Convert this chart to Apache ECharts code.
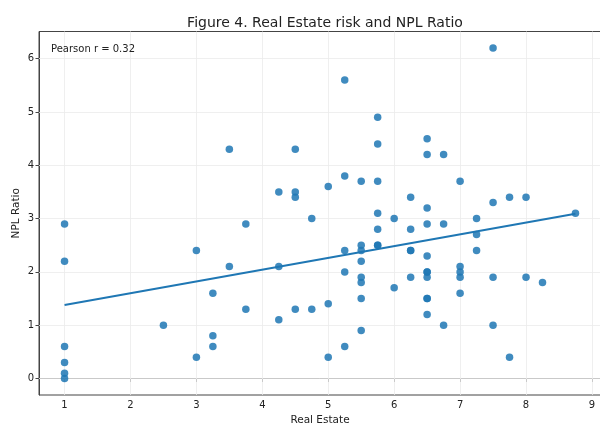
<!DOCTYPE html>
<html>
<head>
<meta charset="utf-8">
<script src="https://cdn.jsdelivr.net/npm/echarts@6/dist/echarts.min.js"></script>
<style>html,body{margin:0;padding:0;background:#fff}#c{width:600px;height:425px}</style>
</head>
<body>
<div id="c"></div>
<script>
const realEstate = [1,1,1,1,1,1, 2.5, 3,3, 3.25,3.25,3.25, 3.5,3.5, 3.75,3.75, 4.25,4.25,4.25,
  4.5,4.5,4.5,4.5, 4.75,4.75, 5,5,5, 5.25,5.25,5.25,5.25,5.25,
  5.5,5.5,5.5,5.5,5.5,5.5,5.5,5.5, 5.75,5.75,5.75,5.75,5.75,5.75,5.75, 6,6,
  6.25,6.25,6.25,6.25,6.25, 6.5,6.5,6.5,6.5,6.5,6.5,6.5,6.5,6.5,6.5,6.5,
  6.75,6.75,6.75, 7,7,7,7,7, 7.25,7.25,7.25, 7.5,7.5,7.5,7.5, 7.75,7.75, 8,8, 8.25, 8.75];
const nplRatio = [2.9,2.2,0.6,0.3,0.1,0.0, 1.0, 2.4,0.4, 1.6,0.8,0.6, 4.3,2.1, 2.9,1.3, 3.5,2.1,1.1,
  4.3,3.5,3.4,1.3, 3.0,1.3, 3.6,1.4,0.4, 5.6,3.8,2.4,2.0,0.6,
  3.7,2.5,2.4,2.2,1.9,1.8,1.5,0.9, 4.9,4.4,3.7,3.1,2.8,2.5,2.5, 3.0,1.7,
  3.4,2.8,2.4,2.4,1.9, 4.5,4.2,3.2,2.9,2.3,2.0,2.0,1.9,1.5,1.5,1.2,
  4.2,2.9,1.0, 3.7,2.1,2.0,1.9,1.6, 3.0,2.7,2.4, 6.2,3.3,1.9,1.0, 3.4,0.4, 3.4,1.9, 1.8, 3.1];
const fitX = [1, 8.75];
const fitY = [1.38, 3.09];
const xTicks = [1,2,3,4,5,6,7,8,9];
const yTicks = [0,1,2,3,4,5,6];

const pts = realEstate.map((x,i)=>[x, nplRatio[i]]);
const fit = fitX.map((x,i)=>[x, fitY[i]]);
const font = 'DejaVu Sans';
const chart = echarts.init(document.getElementById('c'), null, {renderer:'canvas'});
const gridLine = {color:'#ebebeb', width:0.8};
chart.setOption({
  animation:false,
  backgroundColor:'#fff',
  title:{text:'Figure 4. Real Estate risk and NPL Ratio', left:320, textAlign:'center', top:11,
    textStyle:{fontFamily:font, fontSize:14, fontWeight:'normal', color:'#222'}},
  grid:{left:39, top:31.5, width:562, height:363.5, containLabel:false, outerBoundsMode:'none',
    show:true, borderColor:'#444', borderWidth:1, backgroundColor:'transparent'},
  xAxis:{type:'value', min:0.6125, max:9.1375,
    name:'Real Estate', nameLocation:'middle', nameGap:20, nameMoveOverlap:false,
    nameTextStyle:{fontFamily:font, fontSize:10.5, color:'#222'},
    axisLine:{show:true, lineStyle:{color:'#444', width:1}},
    axisTick:{show:true, length:3.5, lineStyle:{color:'#444'}, customValues:xTicks},
    axisLabel:{fontFamily:font, fontSize:10, color:'#222', margin:5, customValues:xTicks},
    splitLine:{show:false}},
  yAxis:{type:'value', min:-0.31, max:6.51,
    name:'NPL Ratio', nameLocation:'middle', nameGap:17, nameRotate:90, nameMoveOverlap:false,
    nameTextStyle:{fontFamily:font, fontSize:10.5, color:'#222'},
    axisLine:{show:true, lineStyle:{color:'#444', width:1}},
    axisTick:{show:true, length:3.5, lineStyle:{color:'#444'}, customValues:yTicks},
    axisLabel:{fontFamily:font, fontSize:10, color:'#222', margin:5, customValues:yTicks},
    splitLine:{show:false}},
  graphic:[{type:'text', left:51, top:44, z:10, style:{text:'Pearson r = 0.32', fontFamily:font, fontSize:10, fill:'#222'}}],
  series:[
    {type:'line', data:[], silent:true, z:1,
      markLine:{silent:true, z:1, symbol:'none', label:{show:false}, emphasis:{disabled:true}, lineStyle:{...gridLine, type:'solid'},
        data:[...xTicks.map(v=>({xAxis:v})), ...yTicks.map(v=>({yAxis:v}))]}},
    {type:'scatter', data:pts, symbolSize:7.5, itemStyle:{color:'#1f77b4', opacity:0.85}, z:3},
    {type:'line', data:fit, showSymbol:false, symbol:'none', lineStyle:{color:'#1f77b4', width:2}, itemStyle:{color:'#1f77b4'}, z:4}
  ]
});
</script>
</body>
</html>
